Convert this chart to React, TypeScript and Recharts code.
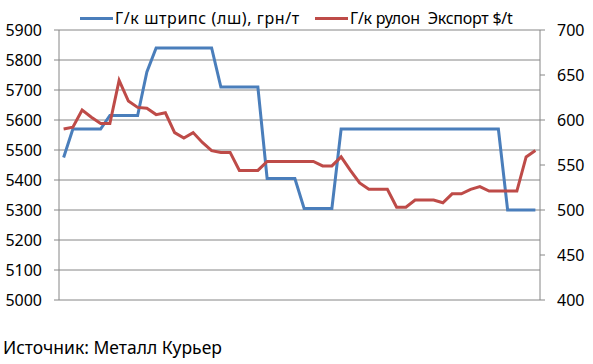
import { LineChart, Line, XAxis, YAxis, CartesianGrid } from "recharts"

// недели (подписи на оси не показаны)
const weeks = Array.from({ length: 52 }, (_, i) => `${i + 1}`)

// Г/к штрипс (лш), грн/т — левая ось
const stripsUah = [
  5475, 5570, 5570, 5570, 5570, 5615, 5615, 5615, 5615, 5760,
  5840, 5840, 5840, 5840, 5840, 5840, 5840, 5710, 5710, 5710,
  5710, 5710, 5405, 5405, 5405, 5405, 5305, 5305, 5305, 5305,
  5570, 5570, 5570, 5570, 5570, 5570, 5570, 5570, 5570, 5570,
  5570, 5570, 5570, 5570, 5570, 5570, 5570, 5570, 5300, 5300,
  5300, 5300,
]

// Г/к рулон Экспорт $/t — правая ось
const coilExportUsd = [
  590, 592, 611, 603, 596, 596, 644, 621, 614, 613,
  606, 608, 586, 580, 586, 575, 566, 564, 564, 544,
  544, 544, 554, 554, 554, 554, 554, 554, 549, 549,
  559, 544, 530, 523, 523, 523, 503, 503, 511, 511,
  511, 508, 518, 518, 523, 526, 521, 521, 521, 521,
  559, 566,
]

const leftTicks = [5000, 5100, 5200, 5300, 5400, 5500, 5600, 5700, 5800, 5900]
const rightTicks = [400, 450, 500, 550, 600, 650, 700]

const seriesNames = ["Г/к штрипс (лш), грн/т", "Г/к рулон  Экспорт $/t"]
const sourceText = "Источник: Металл Курьер"

const BLUE = "#4a7ebb"
const RED = "#be4b48"
const GRID = "#868686"
const FONT = "'Noto Sans', sans-serif"

const chartData = weeks.map((week, i) => ({
  week,
  strips: stripsUah[i],
  coil: coilExportUsd[i],
}))

// легенда поверх графика, как в исходнике
const legendItems = [
  { name: seriesNames[0], color: BLUE, x: 80, spacing: 0.6 },
  { name: seriesNames[1], color: RED, x: 315, spacing: -0.25 },
]

export default function App() {
  return (
    <div style={{ position: "relative", width: 593, height: 364, background: "#fff", fontFamily: FONT }}>
      <style>{`body{margin:0}`}</style>
      <LineChart width={593} height={364} data={chartData} margin={{ top: 30, right: 0, bottom: 64, left: 0 }}>
        <CartesianGrid yAxisId="left" vertical={false} stroke={GRID} strokeWidth={1} />
        <XAxis dataKey="week" scale="band" hide />
        <YAxis
          yAxisId="left"
          orientation="left"
          width={59}
          domain={[5000, 5900]}
          ticks={leftTicks}
          interval={0}
          axisLine={{ stroke: GRID }}
          tickLine={{ stroke: GRID }}
          tickSize={5}
          tickMargin={12}
          tick={{ fill: "#000", fontSize: 16, fontFamily: FONT }}
        />
        <YAxis
          yAxisId="right"
          orientation="right"
          width={53}
          domain={[400, 700]}
          ticks={rightTicks}
          interval={0}
          axisLine={{ stroke: GRID }}
          tickLine={{ stroke: GRID }}
          tickSize={5}
          tickMargin={12}
          tick={{ fill: "#000", fontSize: 16, fontFamily: FONT }}
        />
        <Line
          yAxisId="left"
          type="linear"
          dataKey="strips"
          name={seriesNames[0]}
          stroke={BLUE}
          strokeWidth={3}
          dot={false}
          isAnimationActive={false}
        />
        <Line
          yAxisId="right"
          type="linear"
          dataKey="coil"
          name={seriesNames[1]}
          stroke={RED}
          strokeWidth={3}
          dot={false}
          isAnimationActive={false}
        />
      </LineChart>
      {legendItems.map((it) => (
        <div
          key={it.name}
          style={{ position: "absolute", left: it.x, top: 4, display: "flex", alignItems: "center", height: 28 }}
        >
          <span style={{ display: "inline-block", width: 33, height: 3, background: it.color }} />
          <span style={{ marginLeft: 2, fontSize: 16, letterSpacing: it.spacing, color: "#000", whiteSpace: "pre" }}>
            {it.name}
          </span>
        </div>
      ))}
      <div style={{ position: "absolute", left: 3, top: 335, fontSize: 17.5, color: "#000", whiteSpace: "nowrap" }}>
        {sourceText}
      </div>
    </div>
  )
}
